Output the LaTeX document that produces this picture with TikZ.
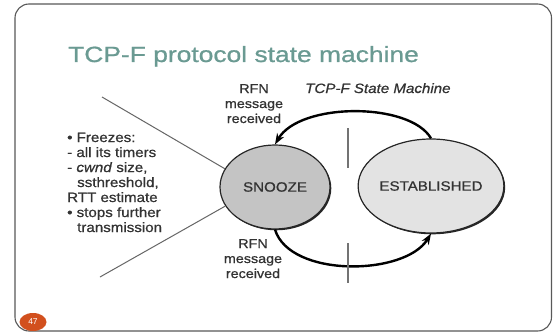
\documentclass[tikz,border=0pt]{standalone}
\usepackage{fontspec}
\setmainfont{Liberation Sans}
\newfontfamily\titlefont[FakeStretch=1.2,FakeBold=0.8]{Liberation Sans}
\newfontfamily\dfont[FakeStretch=1.12,FakeBold=0.7]{Liberation Sans}
\usetikzlibrary{shapes.geometric,arrows.meta,shadows}
\definecolor{titlecol}{HTML}{6A9A92}
\definecolor{txtcol}{HTML}{333333}
\definecolor{pagecol}{HTML}{D2501E}
\begin{document}
\begin{tikzpicture}[x=1pt,y=-1pt,
  frame/.style={draw=black!65,line width=1.1pt,rounded corners=14pt},
  statebox/.style={ellipse,draw=black!85,line width=1.2pt,inner sep=0pt,
    text=txtcol,font=\dfont\fontsize{13.5}{15}\selectfont,
    general shadow={fill=black!85,shadow xshift=1.3pt,shadow yshift=-1.3pt}},
  lbl/.style={inner sep=0pt,text=txtcol,font=\dfont\fontsize{12.8}{15}\selectfont},
  arc/.style={line width=2.4pt,-{Stealth[length=11pt,width=8pt]}},
  thinline/.style={draw=black!60,line width=1pt},
  tick/.style={draw=black!55,line width=1.1pt}]
\useasboundingbox (0,0) rectangle (553,334);
\fill[white] (0,0) rectangle (553,334);
\draw[frame] (15,4) rectangle (551.5,331);
% title
\node[anchor=base west,inner sep=0pt,text=titlecol,font=\titlefont\fontsize{22}{26}\selectfont] (title) at (68,62) {TCP-F protocol state machine};
% states
\node[statebox,fill=black!23,minimum width=110pt,minimum height=84pt] (snooze) at (275,187) {SNOOZE};
\node[statebox,fill=black!11,minimum width=128pt,minimum height=94pt] (est) at (431,186) {ESTABLISHED};
% arcs
\draw[arc] (est.north) .. controls (410,102) and (300,102) .. (snooze.north);
\draw[arc] (snooze.south) .. controls (290,278) and (405,276) .. (est.south);
% ticks
\coordinate (t1a) at (348,128); \coordinate (t1b) at (348,168);
\coordinate (t2a) at (348,243); \coordinate (t2b) at (348,283);
\draw[tick] (t1a) -- (t1b);
\draw[tick] (t2a) -- (t2b);
% labels
\node[lbl,anchor=base] (rfn1) at (254,93) {\begin{tabular}[t]{@{}c@{}}RFN\\message\\received\end{tabular}};
\node[lbl,anchor=base] (rfn2) at (253,248) {\begin{tabular}[t]{@{}c@{}}RFN\\message\\received\end{tabular}};
\node[anchor=base west,inner sep=0pt,text=txtcol,font=\dfont\fontsize{13.5}{15}\selectfont\itshape] (smlabel) at (305,93) {TCP-F State Machine};
% freeze text
\node[anchor=base west,inner sep=0pt,text=txtcol,font=\dfont\fontsize{13.5}{15}\selectfont] (freeze) at (67,142) {\begin{tabular}[t]{@{}l@{}}%
• Freezes:\\
- all its timers\\
- \textit{cwnd} size,\\
\hspace*{10pt}ssthreshold,\\
RTT estimate\\
• stops further\\
\hspace*{10pt}transmission\end{tabular}};
% pointer lines
\coordinate (p1) at (102,97);
\coordinate (p2) at (100,277);
\draw[thinline] (p1) -- (snooze.160);
\draw[thinline] (p2) -- (snooze.201);
% page number
\node[ellipse,fill=pagecol,minimum width=27pt,minimum height=18pt,inner sep=0pt,text=white,font=\fontsize{8.5}{9}\selectfont] (page) at (33,322) {47};
\end{tikzpicture}
\end{document}
